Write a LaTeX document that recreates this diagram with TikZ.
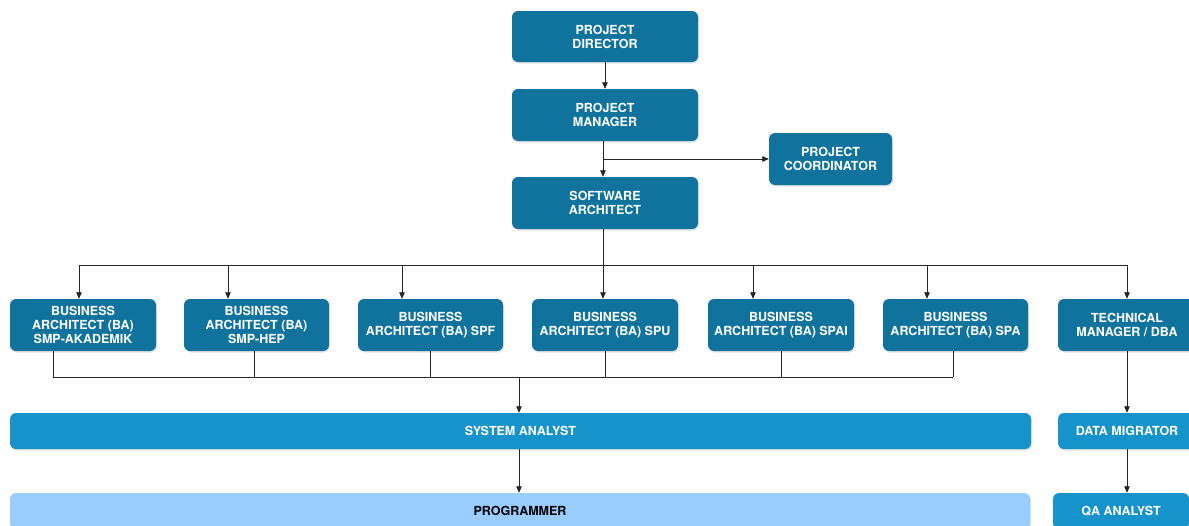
\documentclass[tikz,border=0pt]{standalone}
\usepackage{fontspec}
\setmainfont{TeX Gyre Heros}
\usetikzlibrary{arrows.meta,shadows}
\definecolor{dk}{HTML}{10739E}
\definecolor{md}{HTML}{1793CB}
\definecolor{lt}{HTML}{99CCFF}
\begin{document}
\begin{tikzpicture}[x=1pt,y=-1pt,
  box/.style={draw=none, rounded corners=6pt, align=center, inner sep=0pt,
    font=\fontsize{12.5}{14}\selectfont\bfseries, text=white,
    drop shadow={shadow xshift=1pt,shadow yshift=-1.5pt,opacity=0.22}},
  dkbox/.style={box, fill=dk},
  mdbox/.style={box, fill=md},
  ltbox/.style={box, fill=lt, text=black},
  arr/.style={-{Triangle[length=6.5pt,width=5.5pt]}, line width=0.8pt, draw=black!85},
  ln/.style={line width=0.8pt, draw=black!85}]
\useasboundingbox (0,0) rectangle (1189,525);
\fill[white] (0,0) rectangle (1189,525);
\clip (0,0) rectangle (1189,525);

% top nodes
\node[dkbox, minimum width=186pt, minimum height=51pt] (pd) at (605,36.5) {PROJECT\\DIRECTOR};
\node[dkbox, minimum width=186pt, minimum height=52pt] (pm) at (605,115) {PROJECT\\MANAGER};
\node[dkbox, minimum width=123pt, minimum height=52pt] (pc) at (830.5,159) {PROJECT\\COORDINATOR};
\node[dkbox, minimum width=186pt, minimum height=52pt] (sa) at (605,203) {SOFTWARE\\ARCHITECT};

% business architects
\node[dkbox, minimum width=146pt, minimum height=52pt] (ba1) at (83,325) {BUSINESS\\ARCHITECT (BA)\\SMP-AKADEMIK};
\node[dkbox, minimum width=145pt, minimum height=52pt] (ba2) at (256.5,325) {BUSINESS\\ARCHITECT (BA)\\SMP-HEP};
\node[dkbox, minimum width=145pt, minimum height=52pt] (ba3) at (430.5,325) {BUSINESS\\ARCHITECT (BA) SPF};
\node[dkbox, minimum width=146pt, minimum height=52pt] (ba4) at (605,325) {BUSINESS\\ARCHITECT (BA) SPU};
\node[dkbox, minimum width=146pt, minimum height=52pt] (ba5) at (781,325) {BUSINESS\\ARCHITECT (BA) SPAI};
\node[dkbox, minimum width=145pt, minimum height=52pt] (ba6) at (955.5,325) {BUSINESS\\ARCHITECT (BA) SPA};
\node[dkbox, minimum width=138pt, minimum height=52pt] (tm) at (1127,325) {TECHNICAL\\MANAGER / DBA};

% lower bars
\node[mdbox, minimum width=1021pt, minimum height=36pt] (sys) at (520.5,431) {SYSTEM ANALYST};
\node[mdbox, minimum width=138pt, minimum height=36pt] (dm) at (1127,431) {DATA MIGRATOR};
\node[ltbox, minimum width=1020pt, minimum height=36pt] (prog) at (520,511) {PROGRAMMER};
\node[mdbox, minimum width=136pt, minimum height=36pt] (qa) at (1121,511) {QA ANALYST};

% top chain
\draw[arr] (pd.south) -- (pm.north);
\draw[arr] ([xshift=-2pt]pm.south) -- ([xshift=-2pt]sa.north);
\coordinate (pcb) at ([xshift=-2pt]pm.south |- pc.west);
\draw[arr] (pcb) -- (pc.west);

% top bus
\coordinate (t1) at (79,265);
\coordinate (t2) at (228,265);
\coordinate (t3) at (402,265);
\coordinate (t4) at (603,265);
\coordinate (t5) at (753,265);
\coordinate (t6) at (927,265);
\coordinate (t7) at (1127,265);
\draw[ln] (t1) -- (t7);
\draw[arr] ([xshift=-2pt]sa.south) -- ([xshift=-2pt]ba4.north);
\draw[arr] (t1) -- (t1 |- ba1.north);
\draw[arr] (t2) -- (t2 |- ba2.north);
\draw[arr] (t3) -- (t3 |- ba3.north);
\draw[arr] (t5) -- (t5 |- ba5.north);
\draw[arr] (t6) -- (t6 |- ba6.north);
\draw[arr] (t7) -- (tm.north);

% bottom bus
\coordinate (u1) at (53,377);
\coordinate (u2) at (254,377);
\coordinate (u3) at (430,377);
\coordinate (u4) at (605,377);
\coordinate (u5) at (781,377);
\coordinate (u6) at (953,377);
\coordinate (um) at (519,377);
\draw[ln] (u1) -- (u6);
\draw[ln] (u1 |- ba1.south) -- (u1);
\draw[ln] (u2 |- ba2.south) -- (u2);
\draw[ln] (u3 |- ba3.south) -- (u3);
\draw[ln] (u4 |- ba4.south) -- (u4);
\draw[ln] (u5 |- ba5.south) -- (u5);
\draw[ln] (u6 |- ba6.south) -- (u6);
\draw[arr] (um) -- (um |- sys.north);

% lower chains
\draw[arr] (tm.south) -- (dm.north);
\draw[arr] (um |- sys.south) -- (um |- prog.north);
\draw[arr] (dm.south) -- (dm.south |- qa.north);
\end{tikzpicture}
\end{document}
